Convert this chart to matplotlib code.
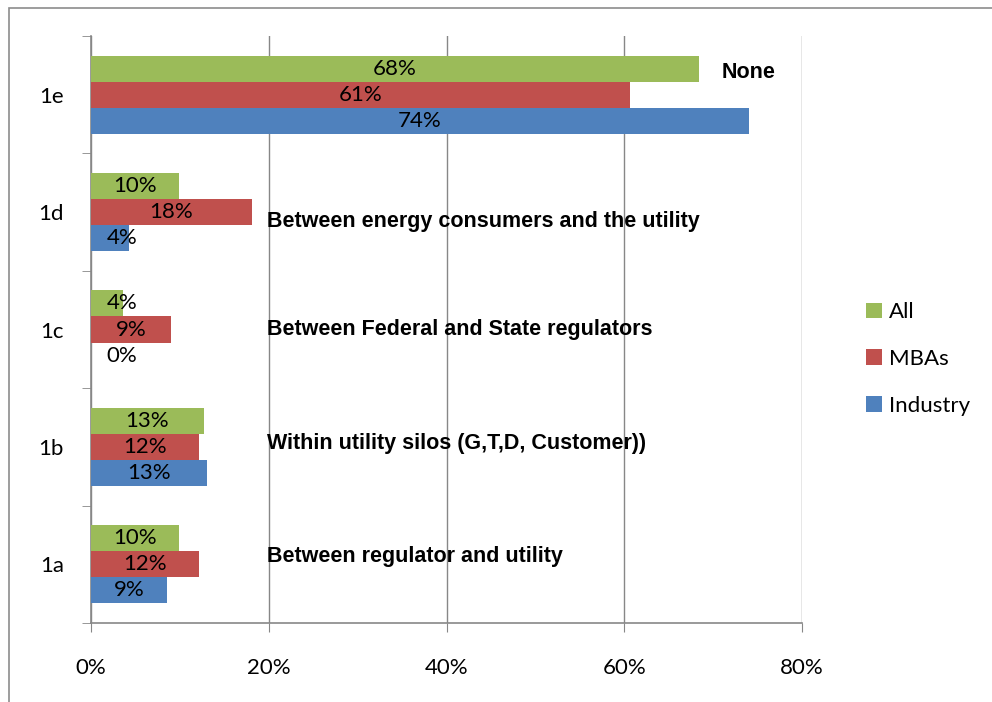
import matplotlib.pyplot as plt
from matplotlib.patches import Rectangle
import numpy as np

# Data
categories = ["1a", "1b", "1c", "1d", "1e"]
series_names = ["All", "MBAs", "Industry"]
all_vals = [9.9, 12.7, 3.6, 9.9, 68.4]
mba_vals = [12.1, 12.1, 9.0, 18.1, 60.7]
industry_vals = [8.5, 13.0, 0.0, 4.3, 74.0]
all_labels = ["10%", "13%", "4%", "10%", "68%"]
mba_labels = ["12%", "12%", "9%", "18%", "61%"]
industry_labels = ["9%", "13%", "0%", "4%", "74%"]
descriptions = ["Between regulator and utility",
                "Within utility silos (G,T,D, Customer))",
                "Between Federal and State regulators",
                "Between energy consumers and the utility",
                "None"]
x_ticks = [0, 20, 40, 60, 80]

colors = ['#9BBB59', '#C0504D', '#4F81BD']
grid_col = '#878787'
label_font = 'Lato'

fig = plt.figure(figsize=(9.92, 7.02), dpi=100)
ax = fig.add_axes([91 / 992, 1 - 623 / 702, (802 - 91) / 992, (623 - 36) / 702])

y = np.arange(len(categories))
w = 0.2215
series = [(all_vals, all_labels, w), (mba_vals, mba_labels, 0), (industry_vals, industry_labels, -w)]
for (vals, labs, off), col, name in zip(series, colors, series_names):
    ax.barh(y + off, vals, height=w, color=col, label=name, zorder=3)
    for yi, v, lab in zip(y, vals, labs):
        ax.text(max(v / 2, 3.5), yi + off, lab, ha='center', va='center',
                fontsize=16, family=label_font, zorder=4)

# description text boxes
desc_x = [19.8, 19.8, 19.8, 19.8, 71.0]
desc_dy = [0.07, 0.033, -0.004, -0.076, 0.185]
for i, (txt, dx, dy) in enumerate(zip(descriptions, desc_x, desc_dy)):
    ax.text(dx, i + dy, txt, ha='left', va='center', fontsize=15.5,
            fontweight='bold', family='Liberation Sans', zorder=5)

ax.set_xlim(0, 80)
ax.set_ylim(-0.5, 4.5)
ax.set_xticks(x_ticks)
ax.set_xticklabels([f"{t}%" for t in x_ticks], fontsize=16, family=label_font)
ax.set_yticks(y)
ax.set_yticklabels(categories, fontsize=16, family=label_font)
ax.set_yticks(np.arange(-0.5, 5, 1), minor=True)
ax.tick_params(axis='y', which='major', length=0, pad=19.5)
ax.tick_params(axis='y', which='minor', length=6.5, color=grid_col, direction='out')
ax.tick_params(axis='x', length=6.5, color=grid_col, pad=19)
ax.xaxis.grid(True, color=grid_col, lw=1, zorder=0)
for s in ['top', 'right']:
    ax.spines[s].set_visible(False)
for s in ['left', 'bottom']:
    ax.spines[s].set_color(grid_col)
    ax.spines[s].set_linewidth(1.2)

handles, labels = ax.get_legend_handles_labels()
fig.legend(handles, labels, loc='center left', bbox_to_anchor=(846 / 992, 1 - 359 / 702),
           frameon=False, handlelength=0.7, handleheight=0.7, handletextpad=0.35,
           labelspacing=1.2, prop={'family': label_font, 'size': 16})

# outer chart frame (only top and left edges visible)
fig.add_artist(Rectangle((9 / 992, -0.1), 1.2, 1.1 - 8 / 702, transform=fig.transFigure,
                         fill=False, edgecolor='#8c8c8c', lw=1.2, clip_on=False))

plt.savefig('out.png', dpi=100)
